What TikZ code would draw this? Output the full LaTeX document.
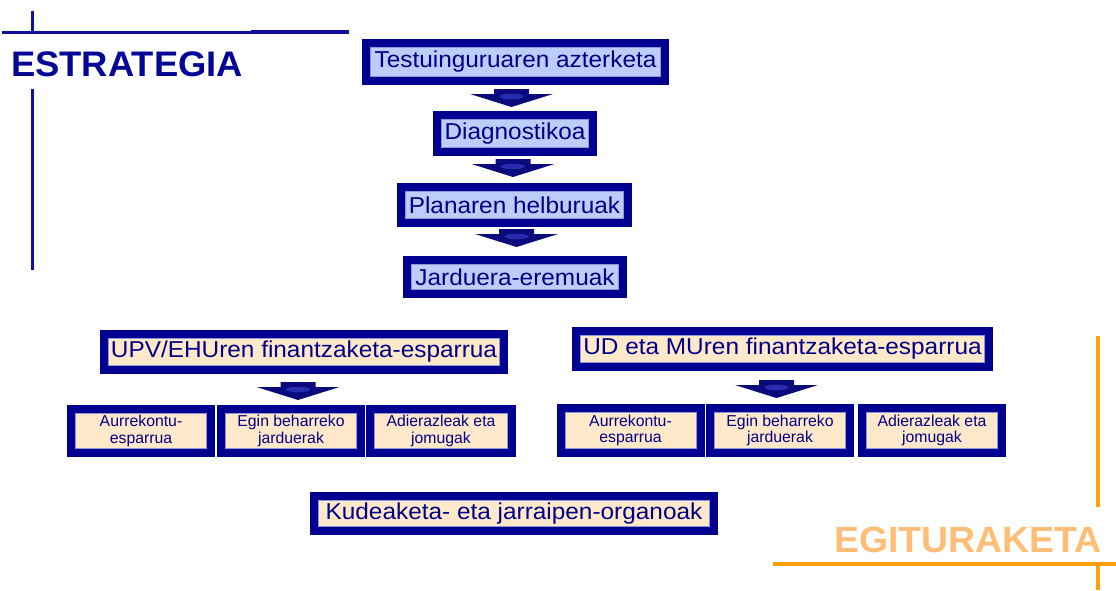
\documentclass[tikz,border=0pt]{standalone}
\usepackage{fontspec}
\setmainfont{Liberation Sans}
\newfontfamily\boxfont[FakeStretch=1.06]{Liberation Sans}
\newfontfamily\titlefont[FakeStretch=1.025]{Liberation Sans}
\definecolor{boxnavy}{RGB}{0,0,145}
\definecolor{innerline}{RGB}{140,150,215}
\definecolor{txtblue}{RGB}{0,0,135}
\definecolor{lightblue}{RGB}{188,205,250}
\definecolor{beige}{RGB}{255,233,202}
\definecolor{arrnavy}{RGB}{10,10,125}
\definecolor{arrlight}{RGB}{40,45,175}
\definecolor{lineblue}{RGB}{15,15,160}
\definecolor{estblue}{RGB}{5,5,150}
\definecolor{orangeline}{RGB}{255,160,10}
\definecolor{orangetxt}{RGB}{255,190,120}
\tikzset{
  navybox/.style={draw=boxnavy, line width=8pt, fill=#1, inner sep=0pt, text=txtblue,
    align=center,
    path picture={\draw[innerline, line width=0.8pt]
      ([xshift=4.4pt,yshift=4.4pt]path picture bounding box.south west) rectangle
      ([xshift=-4.4pt,yshift=-4.4pt]path picture bounding box.north east);}},
  bigtxt/.style={font=\boxfont\fontsize{23}{25}\selectfont},
  smalltxt/.style={font=\fontsize{15.8}{16.5}\selectfont},
  downarr/.pic={
    \fill[arrnavy] (-17.5,0) -- (17.5,0) -- (17.5,5) -- (41.5,5) -- (0,18) -- (-41.5,5) -- (-17.5,5) -- cycle;
    \fill[arrlight] (0,7.5) ellipse [x radius=12pt, y radius=2.8pt];
  },
  blueline/.style={draw=lineblue, line width=3pt},
  orline/.style={draw=orangeline, line width=4pt},
}
\begin{document}
\begin{tikzpicture}[x=1pt,y=-1pt]
\useasboundingbox[fill=white] (0,0) rectangle (1116,590);

% decorative lines
\draw[blueline] (2,32) -- (349,32);
\draw[draw=lineblue, line width=4pt] (251,32) -- (349,32);
\draw[blueline] (32,11) -- (32,33);
\draw[blueline] (32,89) -- (32,270);
\draw[orline] (1097.5,336) -- (1097.5,507);
\draw[orline] (773,564) -- (1116,564);
\draw[orline] (1097.5,566) -- (1097.5,590);

% titles
\node[anchor=base west, inner sep=0pt, text=estblue, font=\titlefont\bfseries\fontsize{35.5}{36}\selectfont] (estr) at (11,76) {ESTRATEGIA};
\node[anchor=base west, inner sep=0pt, text=orangetxt, font=\titlefont\bfseries\fontsize{36.5}{37}\selectfont] (egit) at (834,552) {EGITURAKETA};

% top chain
\node[navybox=lightblue, bigtxt, minimum width=299, minimum height=38] (t1) at (515.5,62) {Testuinguruaren azterketa};
\node[navybox=lightblue, bigtxt, minimum width=156, minimum height=37] (t2) at (515,133.5) {Diagnostikoa};
\node[navybox=lightblue, bigtxt, minimum width=227, minimum height=36] (t3) at (514.5,205) {Planaren helburuak};
\node[navybox=lightblue, bigtxt, minimum width=216, minimum height=34] (t4) at (515,277) {Jarduera-eremuak};

\coordinate (a1) at ([xshift=-4pt,yshift=-4pt]t1.south);
\coordinate (a2) at ([xshift=-2pt,yshift=-3pt]t2.south);
\coordinate (a3) at ([xshift=2pt,yshift=-2pt]t3.south);
\pic at (a1) {downarr};
\pic at (a2) {downarr};
\pic at (a3) {downarr};

% left group
\node[navybox=beige, bigtxt, minimum width=400, minimum height=36] (u1) at (304,352) {UPV/EHUren finantzaketa-esparrua};
\node[navybox=beige, smalltxt, minimum width=140, minimum height=44] (u2a) at (141,431) {Aurrekontu-\\esparrua};
\node[navybox=beige, smalltxt, minimum width=140, minimum height=44] (u2b) at (291,431) {Egin beharreko\\jarduerak};
\node[navybox=beige, smalltxt, minimum width=142, minimum height=44] (u2c) at (441,431) {Adierazleak eta\\jomugak};
\coordinate (a4) at ([xshift=-6pt,yshift=-8pt]u1.south);
\pic at (a4) {downarr};

% right group
\node[navybox=beige, bigtxt, minimum width=413, minimum height=36] (d1) at (782.5,349) {UD eta MUren finantzaketa-esparrua};
\node[navybox=beige, smalltxt, minimum width=140, minimum height=45] (d2a) at (630.5,430.5) {Aurrekontu-\\esparrua};
\node[navybox=beige, smalltxt, minimum width=140, minimum height=45] (d2b) at (780,430.5) {Egin beharreko\\jarduerak};
\node[navybox=beige, smalltxt, minimum width=140.5, minimum height=45] (d2c) at (932,430.5) {Adierazleak eta\\jomugak};
\coordinate (a5) at ([xshift=-6pt,yshift=-9pt]d1.south);
\pic at (a5) {downarr};

% bottom
\node[navybox=beige, bigtxt, minimum width=400, minimum height=35] (k) at (514,513.5) {Kudeaketa- eta jarraipen-organoak};
\end{tikzpicture}
\end{document}
